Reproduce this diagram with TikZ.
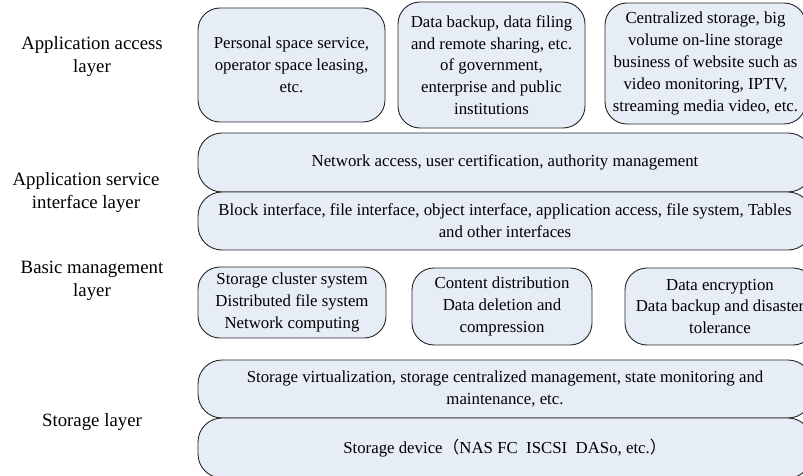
\documentclass[tikz,border=0pt]{standalone}
\usepackage{fontspec}
\setmainfont{Liberation Serif}
\newfontfamily\cjkfont{Noto Sans CJK SC}
\definecolor{boxfill}{RGB}{231,237,247}
\begin{document}
\begin{tikzpicture}[x=1pt,y=1pt,
  box/.style={draw=black!85, line width=0.9pt, fill=boxfill, rounded corners=22pt,
    align=center, inner sep=0pt, font=\fontsize{16.8}{21.8}\selectfont},
  lab/.style={align=center, inner sep=0pt, font=\fontsize{18.8}{22.8}\selectfont}]
\useasboundingbox (0,0) rectangle (803,475);
\clip (0,0) rectangle (803,475);
% application access layer
\node[box, minimum width=187pt, minimum height=114pt] (b1) at (291.5,410)
  {Personal space service,\\operator space leasing,\\etc.};
\node[box, minimum width=187pt, minimum height=126pt] (b2) at (491.5,410)
  {Data backup, data filing\\and remote sharing, etc.\\of government,\\enterprise and public\\institutions};
\node[box, minimum width=201pt, minimum height=121pt] (b3) at (705.5,411.5)
  {Centralized storage, big\\volume on-line storage\\business of website such as\\video monitoring, IPTV,\\streaming media video, etc.};
% application service interface layer
\node[box, rounded corners=24pt, minimum width=614pt, minimum height=59pt] (net) at (505,312.5)
  {Network access, user certification, authority management};
\node[box, rounded corners=24pt, minimum width=614pt, minimum height=58pt] (blk) at (505,254)
  {Block interface, file interface, object interface, application access, file system, Tables\\and other interfaces};
% basic management layer
\node[box, minimum width=188pt, minimum height=71pt] (m1) at (292,172.5)
  {Storage cluster system\\Distributed file system\\Network computing};
\node[box, minimum width=180pt, minimum height=77pt] (m2) at (502,168.5)
  {Content distribution\\Data deletion and\\compression};
\node[box, minimum width=190pt, minimum height=77pt] (m3) at (720,168.5)
  {Data encryption\\Data backup and disaster\\tolerance};
% storage layer
\node[box, rounded corners=24pt, minimum width=614pt, minimum height=58pt] (sv) at (505,86)
  {Storage virtualization, storage centralized management, state monitoring and\\maintenance, etc.};
\node[box, rounded corners=24pt, minimum width=614pt, minimum height=60pt] (sd) at (505,27)
  {Storage device{\cjkfont （}NAS FC\ \ ISCSI\ \ DASo, etc.{\cjkfont ）}};
% layer labels
\node[lab] (l1) at (92,418.5) {Application access\\layer};
\node[lab] (l2) at (86,282.5) {Application service\\interface layer};
\node[lab] (l3) at (92,194) {Basic management\\layer};
\node[lab] (l4) at (92,53) {Storage layer};
\end{tikzpicture}
\end{document}
